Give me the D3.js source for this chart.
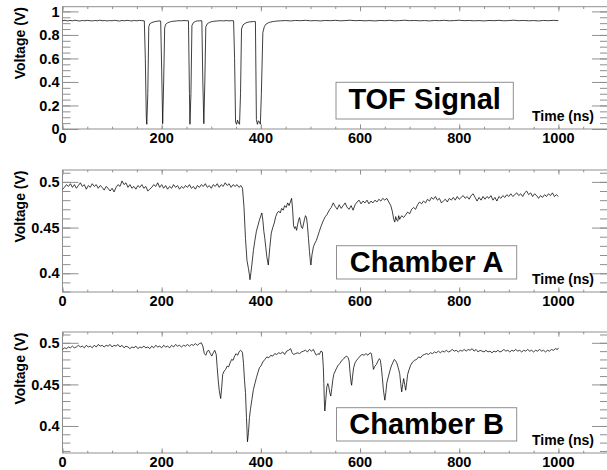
<!DOCTYPE html>
<meta charset="utf-8">
<html>
<head>
<style type="text/css">
    body { margin: 0; background: #fff; }
    svg { display: block; }
    .graphText { font-family: "Liberation Sans", Arial, sans-serif; font-weight: bold; fill: #000; }
</style>
<script src="https://d3js.org/d3.v7.min.js"></script>
</head>
<body>
<svg width="607" height="470"></svg>
<script type="text/javascript">
// scope traces, [time (ns), voltage (V)]
var tofTrace = [
    [0,0.921],[5,0.924],[10,0.919],[15,0.923],[20,0.920],[25,0.925],[30,0.921],[35,0.918],[40,0.923],[45,0.920],
    [50,0.924],[55,0.921],[60,0.919],[65,0.923],[70,0.920],[75,0.925],[80,0.921],[85,0.923],[90,0.919],[95,0.922],
    [100,0.920],[105,0.924],[110,0.921],[115,0.918],[120,0.923],[125,0.920],[130,0.924],[135,0.921],[140,0.919],[145,0.923],
    [150,0.920],[155,0.924],[160,0.921],[165,0.920],[167,0.600],[169,0.100],[170,0.040],[172,0.300],[174,0.870],[176,0.895],
    [180,0.905],[185,0.912],[190,0.916],[195,0.919],[198,0.918],[200,0.500],[202,0.045],[204,0.400],[206,0.860],[208,0.890],
    [212,0.903],[216,0.910],[220,0.914],[225,0.917],[230,0.919],[235,0.921],[240,0.920],[245,0.922],[250,0.921],[254,0.920],
    [256,0.300],[257,0.040],[259,0.300],[261,0.880],[264,0.905],[268,0.915],[272,0.919],[276,0.920],[281,0.920],[283,0.400],
    [285,0.045],[287,0.400],[289,0.870],[292,0.895],[296,0.906],[300,0.912],[305,0.916],[310,0.918],[315,0.920],[320,0.921],
    [325,0.919],[330,0.922],[335,0.920],[340,0.921],[345,0.920],[347,0.600],[349,0.060],[351,0.040],[353,0.075],[355,0.050],
    [357,0.040],[359,0.300],[361,0.850],[364,0.885],[368,0.898],[372,0.906],[376,0.910],[380,0.912],[385,0.914],[389,0.913],
    [391,0.080],[393,0.040],[395,0.070],[397,0.060],[399,0.040],[401,0.300],[404,0.820],[407,0.870],[410,0.890],[415,0.903],
    [420,0.910],[425,0.914],[430,0.917],[435,0.919],[440,0.920],[450,0.922],[460,0.919],[470,0.923],[480,0.921],[490,0.924],
    [500,0.920],[510,0.922],[520,0.919],[530,0.923],[540,0.921],[550,0.924],[560,0.920],[570,0.922],[580,0.925],[590,0.921],
    [600,0.923],[610,0.920],[620,0.922],[630,0.919],[640,0.923],[650,0.921],[660,0.924],[670,0.920],[680,0.922],[690,0.925],
    [700,0.921],[710,0.923],[720,0.920],[730,0.922],[740,0.919],[750,0.923],[760,0.921],[770,0.924],[780,0.920],[790,0.922],
    [800,0.925],[810,0.921],[820,0.923],[830,0.920],[840,0.922],[850,0.919],[860,0.923],[870,0.921],[880,0.924],[890,0.920],
    [900,0.922],[910,0.925],[920,0.921],[930,0.923],[940,0.920],[950,0.922],[960,0.919],[970,0.923],[980,0.921],[990,0.924],
    [1000,0.921]
];

var chamberATrace = [
    [0,0.492],[4,0.494],[8,0.497],[12,0.495],[16,0.498],[20,0.494],[24,0.497],[28,0.493],[32,0.496],[36,0.499],
    [40,0.495],[44,0.497],[48,0.492],[52,0.496],[56,0.494],[60,0.498],[64,0.495],[68,0.497],[72,0.493],[76,0.496],
    [80,0.494],[84,0.491],[88,0.495],[92,0.493],[96,0.490],[100,0.493],[104,0.489],[108,0.494],[112,0.497],[116,0.495],
    [120,0.501],[124,0.497],[128,0.499],[132,0.494],[136,0.497],[140,0.493],[144,0.495],[148,0.492],[152,0.496],[156,0.494],
    [160,0.497],[164,0.493],[168,0.495],[172,0.490],[176,0.492],[180,0.494],[184,0.497],[188,0.495],[192,0.499],[196,0.494],
    [200,0.497],[204,0.493],[208,0.496],[212,0.492],[216,0.495],[220,0.493],[224,0.497],[228,0.494],[232,0.496],[236,0.492],
    [240,0.495],[244,0.493],[248,0.496],[252,0.494],[256,0.497],[260,0.493],[264,0.495],[268,0.492],[272,0.496],[276,0.494],
    [280,0.497],[284,0.495],[288,0.498],[292,0.494],[296,0.496],[300,0.493],[304,0.497],[308,0.495],[312,0.498],[316,0.494],
    [320,0.497],[324,0.495],[328,0.499],[332,0.496],[336,0.498],[340,0.494],[344,0.497],[348,0.495],[352,0.497],[356,0.494],
    [360,0.496],[363,0.493],[366,0.472],[369,0.438],[372,0.414],[375,0.405],[377,0.398],[378,0.393],[380,0.401],[382,0.410],
    [385,0.425],[388,0.436],[391,0.446],[394,0.452],[397,0.458],[400,0.463],[402,0.466],[404,0.458],[406,0.446],[408,0.438],
    [410,0.428],[412,0.418],[415,0.409],[418,0.428],[421,0.444],[424,0.450],[427,0.455],[430,0.462],[433,0.466],[436,0.468],
    [439,0.466],[442,0.471],[445,0.469],[448,0.474],[451,0.472],[454,0.477],[457,0.474],[460,0.479],[462,0.482],[464,0.470],
    [466,0.452],[468,0.449],[470,0.451],[472,0.447],[474,0.453],[476,0.458],[478,0.461],[480,0.455],[482,0.450],[484,0.449],
    [486,0.454],[488,0.459],[490,0.463],[492,0.461],[494,0.452],[496,0.438],[498,0.424],[500,0.412],[501,0.409],[503,0.420],
    [506,0.429],[509,0.433],[512,0.436],[515,0.441],[518,0.446],[521,0.451],[524,0.455],[527,0.459],[530,0.462],[533,0.464],
    [536,0.467],[539,0.470],[542,0.472],[546,0.477],[550,0.473],[554,0.470],[558,0.475],[562,0.471],[566,0.474],[570,0.477],
    [574,0.472],[578,0.470],[582,0.474],[586,0.469],[590,0.475],[594,0.478],[598,0.480],[602,0.476],[606,0.479],[610,0.477],
    [614,0.480],[618,0.476],[622,0.479],[626,0.477],[630,0.480],[634,0.478],[638,0.481],[642,0.479],[646,0.482],[650,0.480],
    [654,0.482],[658,0.478],[662,0.474],[665,0.468],[668,0.459],[670,0.456],[672,0.462],[674,0.458],[676,0.457],[678,0.463],
    [680,0.459],[684,0.463],[688,0.461],[692,0.464],[696,0.467],[700,0.465],[704,0.470],[708,0.472],[712,0.470],[716,0.475],
    [720,0.478],[724,0.476],[728,0.479],[732,0.477],[736,0.481],[740,0.479],[744,0.483],[748,0.481],[752,0.484],[756,0.480],
    [760,0.482],[764,0.477],[768,0.479],[772,0.481],[776,0.478],[780,0.482],[784,0.480],[788,0.483],[792,0.480],[796,0.484],
    [800,0.481],[804,0.483],[808,0.485],[812,0.482],[816,0.484],[820,0.481],[824,0.485],[828,0.487],[832,0.483],[836,0.479],
    [840,0.483],[844,0.480],[848,0.484],[852,0.481],[856,0.484],[860,0.482],[864,0.485],[868,0.480],[872,0.483],[876,0.479],
    [880,0.484],[884,0.482],[888,0.485],[892,0.483],[896,0.486],[900,0.484],[904,0.487],[908,0.484],[912,0.486],[916,0.488],
    [920,0.485],[924,0.487],[928,0.484],[932,0.488],[936,0.490],[940,0.486],[944,0.488],[948,0.484],[952,0.487],[956,0.485],
    [960,0.482],[964,0.485],[968,0.483],[972,0.486],[976,0.484],[980,0.487],[984,0.485],[988,0.488],[992,0.484],[996,0.486],
    [1000,0.484]
];

var chamberBTrace = [
    [0,0.492],[4,0.494],[8,0.493],[12,0.495],[16,0.494],[20,0.496],[24,0.494],[28,0.495],[32,0.497],[36,0.495],
    [40,0.496],[44,0.494],[48,0.497],[52,0.495],[56,0.496],[60,0.494],[64,0.497],[68,0.495],[72,0.498],[76,0.496],
    [80,0.497],[84,0.495],[88,0.497],[92,0.496],[96,0.498],[100,0.495],[104,0.497],[108,0.496],[112,0.498],[116,0.495],
    [120,0.497],[124,0.494],[128,0.496],[132,0.495],[136,0.493],[140,0.495],[144,0.494],[148,0.496],[152,0.493],[156,0.495],
    [160,0.494],[164,0.496],[168,0.494],[172,0.495],[176,0.493],[180,0.496],[184,0.494],[188,0.497],[192,0.495],[196,0.496],
    [200,0.494],[204,0.497],[208,0.495],[212,0.496],[216,0.494],[220,0.497],[224,0.495],[228,0.498],[232,0.496],[236,0.497],
    [240,0.495],[244,0.497],[248,0.496],[252,0.498],[256,0.496],[260,0.498],[264,0.497],[268,0.499],[272,0.497],[276,0.499],
    [280,0.500],[283,0.496],[286,0.487],[289,0.485],[292,0.490],[295,0.491],[298,0.487],[301,0.484],[304,0.488],[307,0.491],
    [310,0.486],[312,0.470],[314,0.455],[316,0.443],[318,0.436],[319,0.433],[321,0.446],[323,0.462],[326,0.466],[329,0.468],
    [332,0.472],[335,0.471],[338,0.476],[341,0.480],[344,0.479],[347,0.484],[350,0.487],[353,0.485],[356,0.489],[359,0.491],
    [361,0.490],[363,0.488],[365,0.475],[367,0.455],[369,0.440],[371,0.410],[373,0.381],[375,0.392],[377,0.410],[379,0.420],
    [382,0.432],[385,0.444],[388,0.451],[391,0.458],[394,0.464],[397,0.470],[400,0.472],[404,0.477],[408,0.480],[412,0.483],
    [416,0.482],[420,0.485],[424,0.484],[428,0.487],[432,0.486],[436,0.488],[440,0.487],[444,0.489],[448,0.486],[452,0.490],
    [456,0.491],[460,0.493],[463,0.488],[466,0.486],[470,0.487],[474,0.488],[478,0.487],[482,0.489],[486,0.490],[490,0.491],
    [494,0.489],[498,0.492],[502,0.490],[506,0.492],[509,0.488],[512,0.485],[515,0.487],[518,0.486],[521,0.490],[524,0.489],
    [526,0.470],[527,0.451],[528,0.430],[529,0.418],[531,0.432],[533,0.447],[535,0.451],[537,0.447],[539,0.440],[541,0.436],
    [543,0.445],[545,0.455],[547,0.462],[550,0.466],[553,0.470],[556,0.473],[559,0.475],[562,0.478],[566,0.480],[570,0.483],
    [573,0.484],[576,0.482],[578,0.478],[580,0.463],[582,0.452],[583,0.449],[585,0.460],[587,0.470],[590,0.476],[593,0.479],
    [596,0.481],[600,0.484],[604,0.486],[608,0.485],[612,0.487],[616,0.485],[620,0.488],[623,0.487],[625,0.478],[627,0.468],
    [630,0.472],[633,0.474],[636,0.478],[639,0.481],[641,0.479],[643,0.470],[645,0.458],[647,0.444],[649,0.435],[650,0.431],
    [652,0.440],[654,0.452],[657,0.459],[660,0.466],[663,0.472],[666,0.476],[669,0.480],[671,0.479],[674,0.476],[677,0.470],
    [680,0.463],[682,0.451],[684,0.441],[686,0.450],[688,0.457],[690,0.450],[692,0.443],[694,0.452],[696,0.462],[699,0.468],
    [702,0.473],[706,0.477],[710,0.479],[714,0.480],[718,0.483],[722,0.482],[726,0.485],[730,0.486],[734,0.487],[738,0.486],
    [742,0.488],[746,0.487],[750,0.489],[754,0.488],[758,0.490],[762,0.488],[766,0.490],[770,0.489],[774,0.491],[778,0.489],
    [782,0.490],[786,0.492],[790,0.490],[794,0.491],[798,0.489],[802,0.491],[806,0.490],[810,0.492],[814,0.490],[818,0.492],
    [822,0.491],[826,0.493],[830,0.490],[834,0.492],[838,0.489],[842,0.491],[846,0.490],[850,0.489],[854,0.491],[858,0.489],
    [862,0.490],[866,0.488],[870,0.490],[874,0.489],[878,0.491],[882,0.489],[886,0.490],[890,0.492],[894,0.490],[898,0.491],
    [902,0.489],[906,0.491],[910,0.490],[914,0.492],[918,0.490],[922,0.491],[926,0.489],[930,0.491],[934,0.490],[938,0.492],
    [942,0.490],[946,0.491],[950,0.489],[954,0.491],[958,0.490],[962,0.492],[966,0.490],[970,0.491],[974,0.489],[978,0.491],
    [982,0.490],[986,0.492],[990,0.491],[994,0.493],[998,0.492],[1000,0.494]
];

// axis ticks
var timeTicks = [0, 200, 400, 600, 800, 1000];
var timeLabels = ["0", "200", "400", "600", "800", "1000"];
var tofTicks = [0, 0.2, 0.4, 0.6, 0.8, 1];
var tofLabels = ["0", "0.2", "0.4", "0.6", "0.8", "1"];
var chamberTicks = [0.4, 0.45, 0.5];
var chamberLabels = ["0.4", "0.45", "0.5"];

var titles = ["TOF Signal", "Chamber A", "Chamber B"];
var xTitle = "Time (ns)";
var yTitle = "Voltage (V)";

var panels = [
    {trace: tofTrace, title: titles[0], yDomain: [0, 1.04], top: 6.7, bottom: 129,
     ticks: tofTicks, labels: tofLabels, minorStep: 0.05, box: [336, 82.3, 177.3, 36.7]},
    {trace: chamberATrace, title: titles[1], yDomain: [0.3795, 0.513], top: 170, bottom: 292,
     ticks: chamberTicks, labels: chamberLabels, minorStep: 0.01, box: [336.5, 245.7, 180.2, 33.3]},
    {trace: chamberBTrace, title: titles[2], yDomain: [0.3675, 0.513], top: 332, bottom: 453,
     ticks: chamberTicks, labels: chamberLabels, minorStep: 0.01, box: [336.5, 407.7, 180.2, 33.3]}
];

var frameLeft = 62.5, frameRight = 608;
var axisColor = "#8f8f8f";

var svg = d3.select("svg");

var xScale = d3.scaleLinear()
    .domain([0, 1100])
    .range([frameLeft, frameRight]);

var xMinor = d3.range(0, 1101, 50);

panels.forEach(function (p) {
    var yScale = d3.scaleLinear()
        .domain(p.yDomain)
        .range([p.bottom, p.top]);

    var yMinor = [];
    var first = Math.ceil(p.yDomain[0] / p.minorStep - 1e-6);
    for (var k = first; k * p.minorStep <= p.yDomain[1] + 1e-9; k++) {
        yMinor.push(+(k * p.minorStep).toFixed(4));
    }

    var g = svg.append("g");

    // frame
    g.append("rect")
        .attr("x", frameLeft)
        .attr("y", p.top)
        .attr("width", frameRight - frameLeft)
        .attr("height", p.bottom - p.top)
        .attr("fill", "none")
        .attr("stroke", axisColor)
        .attr("stroke-width", 1);

    // ticks, all pointing into the frame
    var axes = [
        {ax: d3.axisBottom(xScale).tickValues(xMinor).tickSize(-2.3), t: [0, p.bottom]},
        {ax: d3.axisBottom(xScale).tickValues(timeTicks).tickSize(-4.6), t: [0, p.bottom]},
        {ax: d3.axisTop(xScale).tickValues(xMinor).tickSize(-2.3), t: [0, p.top]},
        {ax: d3.axisTop(xScale).tickValues(timeTicks).tickSize(-4.6), t: [0, p.top]},
        {ax: d3.axisLeft(yScale).tickValues(yMinor).tickSize(-8), t: [frameLeft, 0]},
        {ax: d3.axisLeft(yScale).tickValues(p.ticks).tickSize(-16), t: [frameLeft, 0]},
        {ax: d3.axisRight(yScale).tickValues(yMinor).tickSize(-8), t: [frameRight, 0]},
        {ax: d3.axisRight(yScale).tickValues(p.ticks).tickSize(-16), t: [frameRight, 0]}
    ];
    axes.forEach(function (a) {
        var ag = g.append("g")
            .attr("transform", "translate(" + a.t + ")")
            .call(a.ax.tickFormat(""));
        ag.select(".domain").remove();
        ag.selectAll("line").attr("stroke", axisColor);
        ag.selectAll("text").remove();
    });

    // tick labels
    g.selectAll(".xlab")
        .data(timeTicks)
        .enter().append("text")
        .attr("class", "graphText")
        .attr("x", function (d) { return xScale(d); })
        .attr("y", p.bottom + 13.8)
        .attr("text-anchor", "middle")
        .style("font-size", "14.5px")
        .text(function (d, i) { return timeLabels[i]; });

    g.selectAll(".ylab")
        .data(p.ticks)
        .enter().append("text")
        .attr("class", "graphText")
        .attr("x", frameLeft - 3)
        .attr("y", function (d) { return yScale(d) + 5.2; })
        .attr("text-anchor", "end")
        .style("font-size", "14.5px")
        .text(function (d, i) { return p.labels[i]; });

    // axis titles
    g.append("text")
        .attr("class", "graphText")
        .attr("transform", "translate(25," + (p.top + 0.5) + ") rotate(-90)")
        .attr("text-anchor", "end")
        .style("font-size", "14px")
        .text(yTitle);

    g.append("text")
        .attr("class", "graphText")
        .attr("x", 594)
        .attr("y", p.bottom - 8.5)
        .attr("text-anchor", "end")
        .style("font-size", "14px")
        .text(xTitle);

    // trace
    var line = d3.line()
        .x(function (d) { return xScale(d[0]); })
        .y(function (d) { return yScale(d[1]); });

    g.append("path")
        .datum(p.trace)
        .attr("d", line)
        .attr("fill", "none")
        .attr("stroke", "#000")
        .attr("stroke-width", 0.75)
        .attr("stroke-linejoin", "round");

    // label box
    g.append("rect")
        .attr("x", p.box[0])
        .attr("y", p.box[1])
        .attr("width", p.box[2])
        .attr("height", p.box[3])
        .attr("fill", "#fff")
        .attr("stroke", axisColor)
        .attr("stroke-width", 1);

    g.append("text")
        .attr("class", "graphText")
        .attr("x", p.box[0] + p.box[2] / 2)
        .attr("y", p.box[1] + 26.6)
        .attr("text-anchor", "middle")
        .style("font-size", "29px")
        .text(p.title);
});
</script>
</body>
</html>
